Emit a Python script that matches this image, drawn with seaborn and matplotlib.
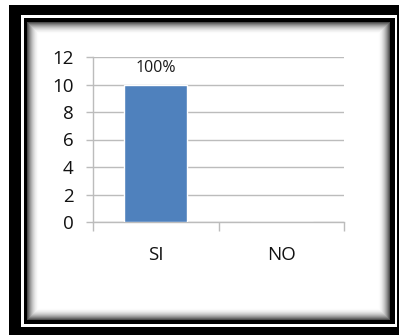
import numpy as np
import pandas as pd
import matplotlib
matplotlib.use("Agg")
import matplotlib.pyplot as plt
import seaborn as sns

# Survey answers
categories = ["SI", "NO"]
counts = [10, 0]
y_ticks = [0, 2, 4, 6, 8, 10, 12]

df = pd.DataFrame({"respuesta": categories, "total": counts})
total = sum(counts)
pct_labels = [f"{c / total * 100:.0f}%" if c > 0 else "" for c in counts]

sns.set_theme(style="white")
plt.rcParams["font.family"] = ["Open Sans", "DejaVu Sans"]

W, H = 399, 335
fig = plt.figure(figsize=(W / 100, H / 100), dpi=100)

# Picture frame: thick black border, thin white line, thin black line, inner shadow
bg = np.ones((H, W))
yy, xx = np.mgrid[0:H, 0:W]
outer = (xx >= 9) & (yy >= 5)
bg[outer] = 0.0
white_gap = (xx >= 21) & (xx < 397) & (yy >= 15) & (yy < 327)
bg[white_gap] = 1.0
inner_line = (xx >= 24) & (xx < 395) & (yy >= 18) & (yy < 324)
bg[inner_line] = 0.0
x0, x1, y0, y1 = 27, 390, 22, 320
inner = (xx >= x0) & (xx < x1) & (yy >= y0) & (yy < y1)
d = np.minimum.reduce([xx - x0, x1 - 1 - xx, yy - y0, y1 - 1 - yy]).astype(float)
shade = np.clip(1 - d / 12.0, 0, 1) ** 2
bg[inner] = (1 - 0.7 * shade)[inner]

bg_ax = fig.add_axes([0, 0, 1, 1])
bg_ax.imshow(bg, cmap="gray", vmin=0, vmax=1, interpolation="nearest", aspect="auto")
bg_ax.set_axis_off()

# Chart area
ax = fig.add_axes([93 / W, 1 - 222 / H, (344 - 93) / W, (222 - 57) / H])
ax.patch.set_alpha(0)
sns.barplot(data=df, x="respuesta", y="total", color="#4f81bd", width=0.5,
            saturation=1, ax=ax, zorder=3)
ax.bar_label(ax.containers[0], labels=pct_labels, padding=6, fontsize=11.5,
             color="#1a1a1a")

grid_c = "#bcbcbc"
ax.set_ylim(0, 12)
ax.set_xlim(-0.5, 1.5)
ax.set_yticks(y_ticks)
ax.yaxis.grid(True, color=grid_c, linewidth=1)
ax.set_axisbelow(True)
ax.set_xlabel("")
ax.set_ylabel("")
for s in ["top", "right"]:
    ax.spines[s].set_visible(False)
for s in ["left", "bottom"]:
    ax.spines[s].set_color(grid_c)
    ax.spines[s].set_linewidth(1)

ax.tick_params(axis="y", length=5, width=1, color=grid_c, pad=9,
               labelsize=13.5, labelcolor="#111111", left=True)
ax.tick_params(axis="x", which="major", length=0, pad=17,
               labelsize=13.5, labelcolor="#111111")
ax.set_xticks([-0.5, 0.5, 1.5], minor=True)
ax.tick_params(axis="x", which="minor", length=6.5, width=1, color=grid_c,
               bottom=True)

fig.savefig("out.png", dpi=100)
